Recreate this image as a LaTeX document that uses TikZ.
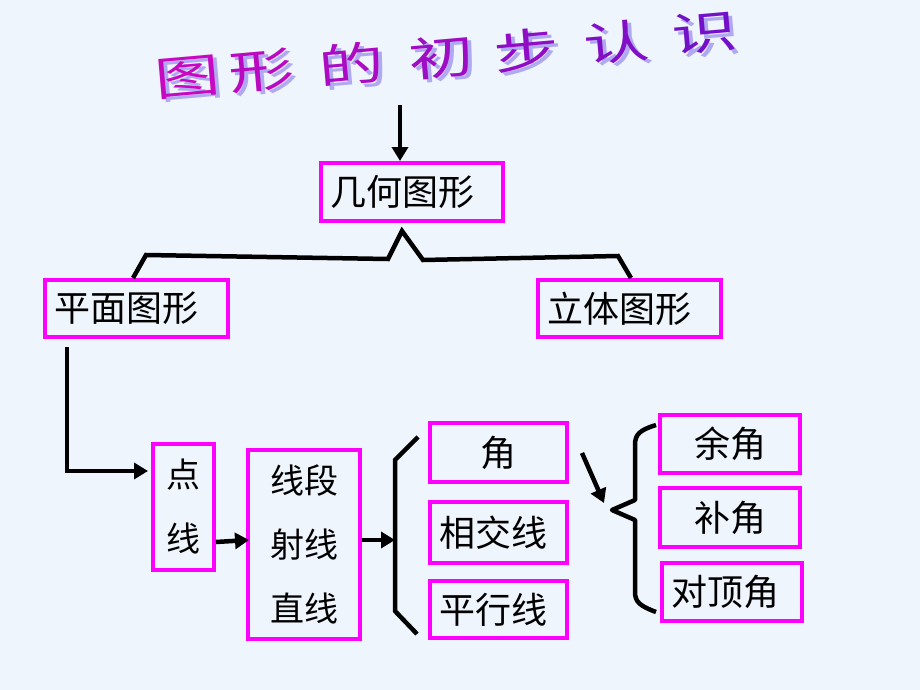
\documentclass[tikz,border=0pt]{standalone}
\usepackage{fontspec}
\newfontfamily\cjk{Noto Sans CJK SC}
\usetikzlibrary{arrows.meta,calc}
\definecolor{bg}{HTML}{EEF5FC}
\definecolor{mag}{HTML}{FF00FF}
\definecolor{ttlA}{HTML}{C808C0}
\definecolor{ttlB}{HTML}{7010C8}
\definecolor{shd}{HTML}{B0A8F0}
\begin{document}
\begin{tikzpicture}[x=1pt,y=-1pt,
  box/.style={draw=mag, line width=4pt, inner sep=0pt, text=black,
    font=\cjk\fontsize{36}{40}\selectfont},
  conn/.style={line width=4.5pt, black, line join=miter},
  arr/.style={line width=4.5pt, black, -{Triangle[length=14pt,width=16pt]}},
  ttlch/.style={font=\cjk\fontsize{46}{50}\selectfont, rotate=5, inner sep=0pt}]
\useasboundingbox (0,0) rectangle (920,690);
\fill[bg] (0,0) rectangle (920,690);

% title (each character with its shadow)
\foreach \c/\x/\y [count=\i from 0] in {图/188/79,形/262/72,的/352/66,初/442/59,步/527/52,认/617/44,识/705/35}{
  \pgfmathtruncatemacro{\p}{100-\i*16}
  \node[ttlch, text=ttlA!\p!ttlB] (t\i) at (\x,\y)
    {\scalebox{1.42}[1]{\rlap{\kern2.5pt\raisebox{-3.5pt}{\textcolor{shd}{\c}}}\c}};
}
\coordinate (ta) at (400,105);

% boxes
\node[box, minimum width=182pt, minimum height=58pt, text width=164pt, align=left] (jihe) at (412,192) {几何图形};
\node[box, minimum width=183pt, minimum height=57pt, text width=165pt, align=left] (pingmian) at (136.5,308.5) {平面图形};
\node[box, minimum width=183pt, minimum height=57pt, text width=165pt, align=left] (liti) at (629.5,308.5) {立体图形};
\node[box, minimum width=61pt, minimum height=126pt, align=center, font=\cjk\fontsize{34}{64}\selectfont] (dianxian) at (183.5,507) {点\\线};
\node[box, minimum width=112pt, minimum height=189pt, align=center, font=\cjk\fontsize{34}{64}\selectfont] (xianduan) at (304,544.5) {线段\\射线\\直线};
\node[box, minimum width=137pt, minimum height=59pt] (jiao) at (498.5,452.5) {角};
\node[box, minimum width=137pt, minimum height=61pt, text width=119pt, align=left] (xiangjiao) at (498.5,532.5) {相交线};
\node[box, minimum width=137pt, minimum height=57pt, text width=119pt, align=left] (pingxing) at (498.5,609.5) {平行线};
\node[box, minimum width=140pt, minimum height=58pt] (yujiao) at (730,444) {余角};
\node[box, minimum width=140pt, minimum height=59pt] (bujiao) at (730,517.5) {补角};
\node[box, minimum width=140pt, minimum height=58pt, text width=122pt, align=left] (duiding) at (732,592) {对顶角};

% title arrow
\draw[arr] (ta) -- (jihe.north -| ta);

% split connector
\draw[conn] ($(pingmian.north west)+(90,0)$) -- ($(pingmian.north west)+(103,-23)$)
  -- ($(jihe.south)+(-24,36)$) -- ($(jihe.south)+(-10,8)$) -- ($(jihe.south)+(11,37)$)
  -- ($(liti.north west)+(82,-22)$) -- ($(liti.north west)+(95,0)$);

% 平面图形 -> 点线
\coordinate (pa) at ($(pingmian.south west)+(24,8)$);
\coordinate (pb) at ($(dianxian.north west)+(-3,29)$);
\draw[arr] (pa) |- (pb);

% 点线 -> 线段
\draw[arr] ($(dianxian.south east)+(0,-30)$) -- ($(xianduan.west)+(3,-4.5)$);
% 线段 -> bracket
\coordinate (b1) at (418,437);
\coordinate (b2) at (395,460);
\coordinate (b3) at (395,611);
\coordinate (b4) at (417,634);
\draw[arr] ($(xianduan.east)+(0,-4.5)$) -- (b2 |- 0,540);
\draw[conn] (b1) -- (b2) -- (b3) -- (b4);

% diagonal arrow
\coordinate (d1) at (582,453);
\coordinate (d2) at (604,503);
\draw[arr] (d1) -- (d2);

% curly brace
\coordinate (c1) at (656,425);
\coordinate (c2) at (612,510);
\coordinate (c3) at (656,612);
\draw[conn, line join=round] (c1) .. controls (640,430) and (635,434) .. (635,445)
  -- (635,500) -- (c2) -- (635,520) -- (635,592)
  .. controls (635,602) and (640,606) .. (c3);
\end{tikzpicture}
\end{document}
